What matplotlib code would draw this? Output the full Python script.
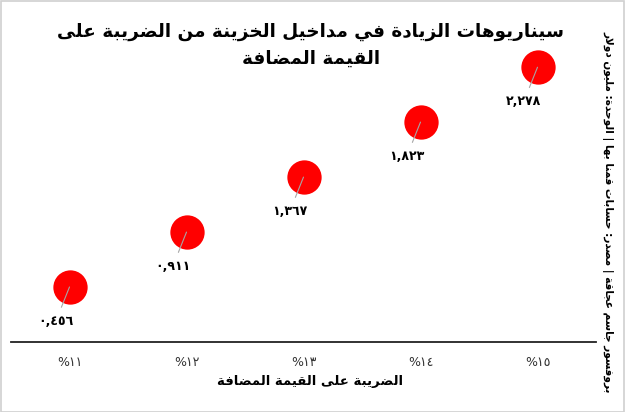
import matplotlib
matplotlib.use("Agg")
import matplotlib.pyplot as plt
from matplotlib.patches import Rectangle

# data
categories = ["%١١", "%١٢", "%١٣", "%١٤", "%١٥"]   # VAT rate 11% .. 15%
revenue = [0.456, 0.911, 1.367, 1.823, 2.278]      # million dollars

title_lines = ["سيناريوهات الزيادة في مداخيل الخزينة من الضريبة على", "القيمة المضافة"]
xlabel_text = "الضريبة على القيمة المضافة"
source_text = "بروفسور جاسم عجاقة | مصدر: حسابات قمنا بها | الوحدة: مليون دولار"

# matplotlib does no arabic shaping, so do it by hand:
# pick the presentation form of each letter, then reverse for display
LETTERS = "ءآأؤإئابةتثجحخدذرزسشصضطظعغفقكلمنهوىي"
NFORMS = [1, 2, 2, 2, 2, 4, 2, 4, 2, 4, 4, 4, 4, 4, 2, 2, 2, 2,
          4, 4, 4, 4, 4, 4, 4, 4, 4, 4, 4, 4, 4, 4, 4, 2, 2, 4]
FORMS = {}
code = 0xFE80
for ch, n in zip(LETTERS, NFORMS):
    FORMS[ch] = (code, n)
    code += n
LAM_ALEF = {"آ": 0xFEF5, "أ": 0xFEF7, "إ": 0xFEF9, "ا": 0xFEFB}


def dual(c):
    return c in FORMS and FORMS[c][1] == 4


def shape(text):
    out = []
    i = 0
    while i < len(text):
        c = text[i]
        prev = text[i - 1] if i > 0 else ""
        nxt = text[i + 1] if i + 1 < len(text) else ""
        if c == "ل" and nxt in LAM_ALEF:
            out.append(chr(LAM_ALEF[nxt] + (1 if dual(prev) else 0)))
            i += 2
            continue
        if c in FORMS:
            base, n = FORMS[c]
            cp = n >= 2 and dual(prev)
            cn = n == 4 and nxt in FORMS and FORMS[nxt][1] >= 2
            if cp and cn:
                k = 3
            elif cp:
                k = 1
            elif cn:
                k = 2
            else:
                k = 0
            out.append(chr(base + k))
        else:
            out.append(c)
        i += 1
    return "".join(out)[::-1]


def arabic_num(v):
    s = "{:.3f}".format(v).replace(".", ",")
    return s.translate(str.maketrans("0123456789", "٠١٢٣٤٥٦٧٨٩"))


plt.rcParams["font.family"] = ["DejaVu Sans"]

fig = plt.figure(figsize=(6.25, 4.12), dpi=100)
ax = fig.add_axes([11 / 625, 0.17, 585 / 625, 0.805])

x = list(range(len(categories)))
ax.scatter(x, revenue, s=610, color="#ff0000", zorder=3, linewidths=0)

for xi, v in zip(x, revenue):
    ax.annotate(arabic_num(v), xy=(xi, v), xytext=(-10, -25), textcoords="offset points",
                ha="center", va="center", fontsize=9, fontweight="bold",
                arrowprops=dict(arrowstyle="-", color="#a6a6a6", lw=0.8,
                                shrinkA=4, shrinkB=0), zorder=4)

ax.set_xlim(-0.5, 4.5)
ax.set_ylim(0, 2.75)
ax.set_xticks(x)
ax.set_xticklabels(categories, fontsize=9, color="#333333")
ax.tick_params(axis="x", length=0, pad=10)
ax.set_yticks([])
for side in ["top", "left", "right"]:
    ax.spines[side].set_visible(False)
ax.spines["bottom"].set_color("#222222")
ax.spines["bottom"].set_linewidth(1.3)

fig.text(0.497, 0.89, "\n".join(shape(t) for t in title_lines), ha="center", va="center",
         fontsize=13.2, fontweight="bold", linespacing=1.65)
fig.text(0.496, 0.075, shape(xlabel_text), ha="center", va="center",
         fontsize=9.5, fontweight="bold")
fig.text(0.973, 0.487, shape(source_text), ha="center", va="center", rotation=270,
         fontsize=7.6, fontweight="bold")

# light grey frame round the picture
fig.patches.append(Rectangle((0.001, 0.001), 0.997, 0.996, transform=fig.transFigure,
                             fill=False, edgecolor="#d0d0d0", lw=1.2))

fig.savefig("out.png", dpi=100)
